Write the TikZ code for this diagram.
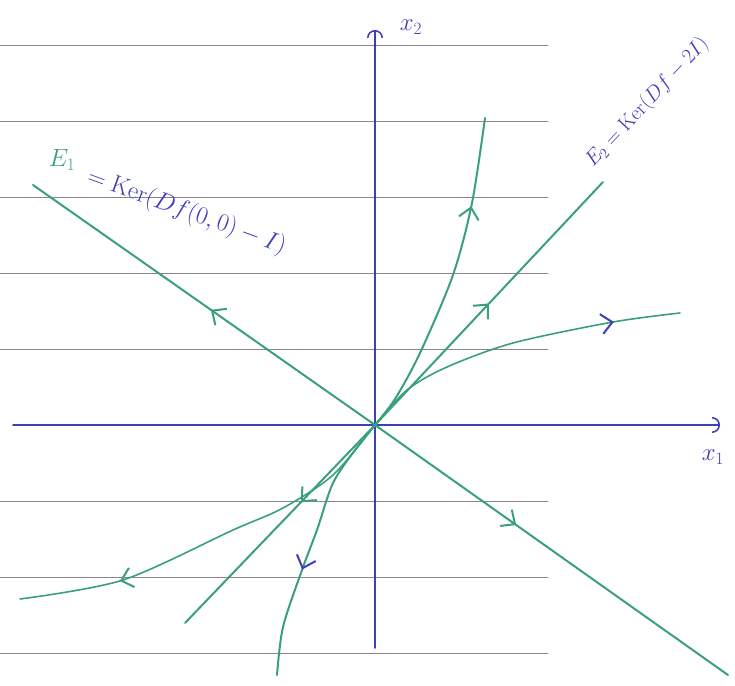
\documentclass[tikz,border=0pt]{standalone}
\usetikzlibrary{arrows.meta,decorations.markings}
\definecolor{pengreen}{RGB}{58,160,122}
\definecolor{penblue}{RGB}{62,62,185}
\definecolor{ruleline}{RGB}{140,130,145}
\tikzset{
  traj/.style={pengreen,line width=2pt},
  axe/.style={penblue,line width=1.5pt},
  midarr/.style 2 args={postaction={decorate},decoration={markings,
    mark=at position #1 with {\arrow[#2,line width=2pt]{Straight Barb[length=11pt,width=20pt]}}}}
}
\begin{document}
\begin{tikzpicture}[x=1pt,y=1pt,line join=round,line cap=round,font=\fontsize{24}{28}\selectfont]
	\def\xmin{-362} \def\xmax{345}
	\def\ymin{-223} \def\ymax{395}
	\useasboundingbox (-375,-260) rectangle (360,425);
	% lignes du cahier
	\foreach \k in {-3,-2,-1,1,2,3,4,5}
		\draw[ruleline,line width=0.7pt] (-375,76*\k)--(173,76*\k);
	\coordinate (O) at (0,0);
	\draw[axe,-{Arc Barb[length=8pt,width=16pt]}] (\xmin,0)--(\xmax,0);
	\draw[axe,-{Arc Barb[length=8pt,width=16pt]}] (0,\ymin)--(0,\ymax);
	\node[penblue] (lx1) at (338,-32) {$x_1$};
	\node[penblue] (lx2) at (36,398) {$x_2$};
	% sous-espaces propres
	\draw[traj,midarr={0.48}{pengreen}] (O)--(-342,240);
	\draw[traj,midarr={0.40}{pengreen}] (O)--(353,-250);
	\draw[traj,midarr={0.50}{pengreen}] (O)--(228,243);
	\draw[traj,midarr={0.39}{pengreen}] (O)--(-190,-198);
	% trajectoires
	\draw[traj,midarr={0.73}{pengreen}] plot[smooth] coordinates{(0,0)(20,26)(45,72)(78,150)(97,222)(110,307)};
	\draw[traj,midarr={0.60}{penblue}] plot[smooth] coordinates{(0,0)(-20,-25)(-42,-58)(-58,-105)(-73,-145)(-92,-202)(-98,-250)};
	\draw[traj,line width=1.6pt,midarr={0.80}{penblue}] plot[smooth] coordinates{(0,0)(32,35)(72,58)(138,82)(238,103)(305,112)};
	\draw[traj,line width=1.6pt,midarr={0.75}{pengreen}] plot[smooth] coordinates{(0,0)(-42,-50)(-92,-83)(-142,-105)(-252,-155)(-355,-174)};
	% etiquettes
	\node[pengreen] (e1) at (-313,265) {$E_1$};
	\node[penblue,rotate=-20,anchor=west] (k1) at (-290,250) {$=\mathrm{Ker}(Df(0,0)-I)$};
	\node[penblue,rotate=47,anchor=west,font=\fontsize{21}{25}\selectfont] (k2) at (212,258) {$E_2=\mathrm{Ker}(Df-2I)$};
\end{tikzpicture}
\end{document}
